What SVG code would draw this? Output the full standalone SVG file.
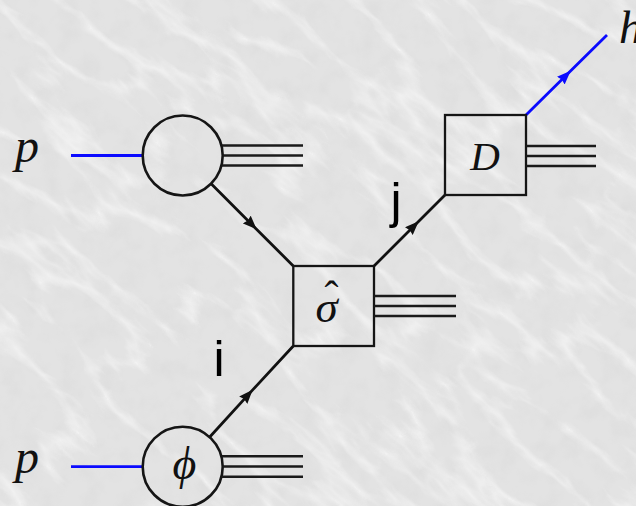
<svg xmlns="http://www.w3.org/2000/svg" width="636" height="506" viewBox="0 0 636 506">
  <defs>
    <filter id="marble" filterUnits="userSpaceOnUse" x="-400" y="-400" width="1436" height="1306">
      <feTurbulence type="turbulence" baseFrequency="0.008 0.022" numOctaves="4" seed="11" result="t"/>
      <feColorMatrix type="matrix" values="0 0 0 0 1  0 0 0 0 1  0 0 0 0 1  -2.6 0 0 0 0.75"/>
    </filter>
    <filter id="speck" filterUnits="userSpaceOnUse" x="0" y="0" width="636" height="506">
      <feTurbulence type="fractalNoise" baseFrequency="0.05" numOctaves="3" seed="4"/>
      <feColorMatrix type="matrix" values="0 0 0 0 0.55  0 0 0 0 0.55  0 0 0 0 0.55  0.9 0 0 0 -0.38"/>
    </filter>
    <marker id="arrK" viewBox="0 0 14 11" refX="13" refY="5.5" markerWidth="14" markerHeight="11" markerUnits="userSpaceOnUse" orient="auto">
      <path d="M0,0 L14,5.5 L0,11 L1.5,5.5 Z" fill="#111"/>
    </marker>
    <marker id="arrB" viewBox="0 0 14 11" refX="13" refY="5.5" markerWidth="14" markerHeight="11" markerUnits="userSpaceOnUse" orient="auto">
      <path d="M0,0 L14,5.5 L0,11 L1.5,5.5 Z" fill="#0a0aff"/>
    </marker>
  </defs>
  <style>
    .math { font-family: "Liberation Serif", "DejaVu Serif", serif; font-style: italic; fill: #111; }
    .lab { font-family: "Liberation Sans", Arial, sans-serif; fill: #000; font-size: 50px; }
    .ln { stroke: #111; stroke-width: 2.8; fill: none; }
    .blue { stroke: #0a0aff; stroke-width: 2.8; fill: none; }
    .tri { stroke: #1a1a1a; stroke-width: 2.4; fill: none; }
    .circ { stroke: #151515; stroke-width: 2.6; fill: none; }
    .box { stroke: #151515; stroke-width: 2.3; fill: none; }
  </style>

  <!-- background -->
  <rect x="0" y="0" width="636" height="506" fill="#e3e3e3"/>
  <rect x="0" y="0" width="636" height="506" fill="#888" filter="url(#speck)" opacity="0.35"/>
  <g transform="rotate(40 318 253)">
    <rect x="-400" y="-400" width="1436" height="1306" fill="#fff" filter="url(#marble)" opacity="0.7"/>
  </g>

  <g id="connectors">
    <line class="blue" x1="71" y1="155.5" x2="142.7" y2="155.5"/>
    <line class="blue" x1="71" y1="466.7" x2="142.7" y2="466.7"/>
    <path class="ln" d="M210.9,183.6 L256,228.7 L293.3,266" marker-mid="url(#arrK)"/>
    <path class="ln" d="M209.5,437.3 L252,390.6 L293.3,346" marker-mid="url(#arrK)"/>
    <path class="ln" d="M374,266 L418,222 L445,195" marker-mid="url(#arrK)"/>
    <path class="blue" d="M526,115 L570,71.5 L607,35" marker-mid="url(#arrB)"/>
    <text id="label-i" class="lab" x="213.5" y="376">i</text>
    <text id="label-j" class="lab" x="390.5" y="218">j</text>
  </g>

  <g id="p-top">
    <text class="math" x="15" y="162" font-size="48">p</text>
  </g>
  <g id="p-bottom">
    <text class="math" x="15" y="473" font-size="48">p</text>
  </g>

  <g id="pdf-top">
    <circle class="circ" cx="182.7" cy="155.5" r="40"/>
    <line class="tri" x1="222" y1="145.5" x2="303" y2="145.5"/>
    <line class="tri" x1="222.7" y1="155.5" x2="303" y2="155.5"/>
    <line class="tri" x1="222" y1="165.5" x2="303" y2="165.5"/>
  </g>

  <g id="pdf-bottom">
    <circle class="circ" cx="182.7" cy="466.7" r="40"/>
    <text class="math" x="184.5" y="479" font-size="46" text-anchor="middle">ϕ</text>
    <line class="tri" x1="222" y1="456.3" x2="303" y2="456.3"/>
    <line class="tri" x1="222.7" y1="466.5" x2="303" y2="466.5"/>
    <line class="tri" x1="222" y1="476.7" x2="303" y2="476.7"/>
  </g>

  <g id="sigma">
    <rect class="box" x="293.3" y="266" width="80.7" height="80"/>
    <text class="math" font-size="45"><tspan x="315.5" y="321.5">σ</tspan><tspan x="324.5" y="310" font-size="42" font-style="normal">ˆ</tspan></text>
    <line class="tri" x1="374" y1="296" x2="456" y2="296"/>
    <line class="tri" x1="374" y1="306" x2="456" y2="306"/>
    <line class="tri" x1="374" y1="316" x2="456" y2="316"/>
  </g>

  <g id="D">
    <rect class="box" x="445" y="115" width="81" height="80"/>
    <text class="math" x="485" y="170" font-size="41" text-anchor="middle">D</text>
    <line class="tri" x1="526" y1="146" x2="596" y2="146"/>
    <line class="tri" x1="526" y1="156" x2="596" y2="156"/>
    <line class="tri" x1="526" y1="166" x2="596" y2="166"/>
  </g>

  <g id="h">
    <text class="math" x="619" y="43" font-size="47">h</text>
  </g>
</svg>
